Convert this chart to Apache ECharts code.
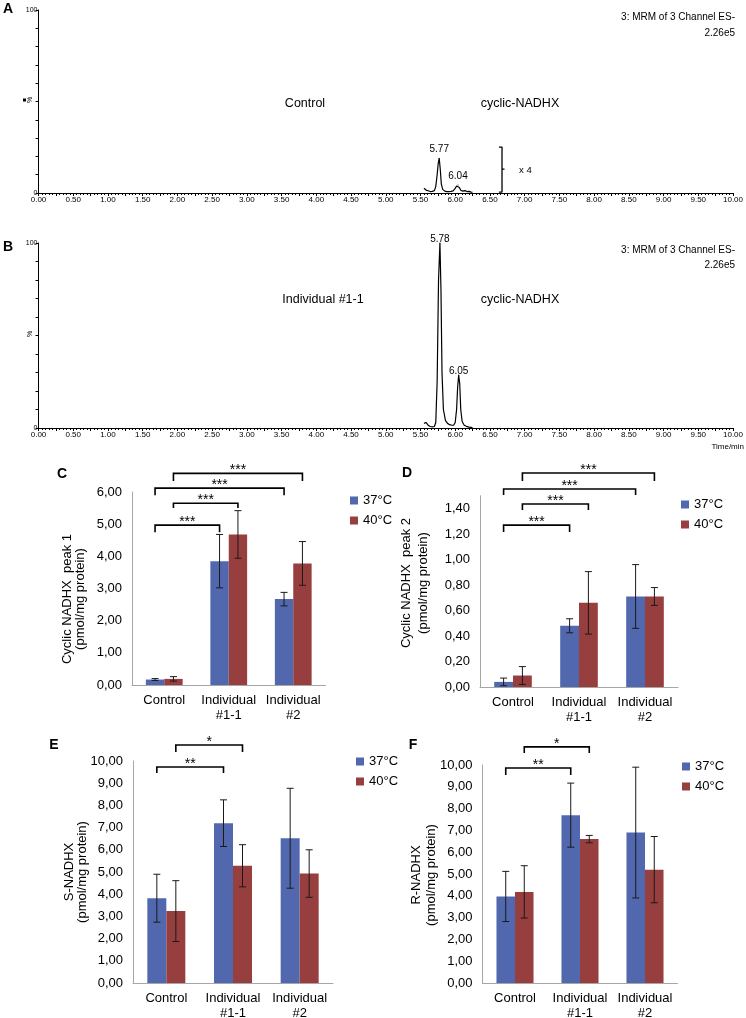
<!DOCTYPE html>
<html><head><meta charset="utf-8">
<script src="https://cdn.jsdelivr.net/npm/echarts@6/dist/echarts.min.js"></script>
<style>html,body{margin:0;padding:0;background:#fff}#c{width:746px;height:1018px}</style>
</head><body><div id="c"></div><script>
// ---------- chromatogram data (time in min, intensity in %) ----------
const timeA = [5.55,5.58,5.61,5.64,5.67,5.70,5.72,5.74,5.755,5.77,5.785,5.80,5.82,5.85,5.88,5.91,5.94,5.97,6.00,6.02,6.04,6.06,6.08,6.11,6.14,6.17,6.20,6.23,6.25];
const intensityA = [2.6,1.6,1.2,0.8,0.9,1.3,3.5,10,16,19,13,5,2,1,0.8,0.7,0.9,1.2,2.5,3.8,4.4,3,1.5,1,1.3,0.8,0.9,0.5,0.4];
const peaksA = [5.77, 6.04];
const timeB = [5.55,5.58,5.61,5.64,5.67,5.70,5.72,5.74,5.76,5.78,5.795,5.81,5.83,5.86,5.89,5.92,5.95,5.98,6.00,6.02,6.035,6.05,6.065,6.08,6.10,6.13,6.16,6.20,6.25];
const intensityB = [2.5,3,1.5,0.8,0.6,0.8,3,25,80,100,75,30,10,4,2.5,1.8,1.5,1.6,3,10,22,28.6,24,10,3.5,1.5,0.9,0.5,0.2];
const peaksB = [5.78, 6.05];

// ---------- bar chart data ----------
const categories = ['Control', 'Individual\n#1-1', 'Individual\n#2'];
const tempNames = ['37°C', '40°C'];
const peak1_37 = [0.17, 3.85, 2.67], peak1_37_err = [0.03, 0.83, 0.21];
const peak1_40 = [0.19, 4.68, 3.78], peak1_40_err = [0.07, 0.74, 0.68];
const peak2_37 = [0.04, 0.48, 0.71], peak2_37_err = [0.03, 0.055, 0.25];
const peak2_40 = [0.09, 0.66, 0.71], peak2_40_err = [0.07, 0.245, 0.07];
const sN_37 = [3.82, 7.20, 6.52], sN_37_err = [1.08, 1.05, 2.25];
const sN_40 = [3.24, 5.28, 4.93], sN_40_err = [1.37, 0.95, 1.07];
const rN_37 = [3.97, 7.70, 6.90], rN_37_err = [1.15, 1.47, 3.00];
const rN_40 = [4.18, 6.60, 5.20], rN_40_err = [1.20, 0.17, 1.52];
// significance: [fromCategory, fromTemp(0/1), toCategory, toTemp, level, drop]
const sigC = [[0,0,1,0,4.97,0.22],[0,1,1,1,5.65,0.15],[0,0,2,0,6.12,0.22],[0,1,2,1,6.58,0.24]];
const sigC_txt = ['***','***','***','***'];
const sigD = [[0,0,1,0,1.27,0.055],[0,1,1,1,1.435,0.047],[0,0,2,0,1.553,0.047],[0,1,2,1,1.678,0.063]];
const sigD_txt = ['***','***','***','***'];
const sigE = [[0,0,1,0,9.73,0.27],[0,1,1,1,10.72,0.31]];
const sigE_txt = ['**','*'];
const sigF = [[0,0,1,0,9.86,0.32],[0,1,1,1,10.83,0.28]];
const sigF_txt = ['**','*'];

const FONT = 'Liberation Sans, Arial, sans-serif';
const BLUE = '#5168AF', RED = '#973F3E';
const BARFRAC = 0.285;

const chart = echarts.init(document.getElementById('c'));

function chromData(t, v, peaks, dist) {
  return t.map((x, i) => {
    const d = { value: [x, v[i]] };
    if (peaks.some(p => Math.abs(p - x) < 1e-9)) {
      d.symbol = 'circle'; d.symbolSize = 1;
      d.label = { show: true, position: 'top', distance: dist, formatter: x.toFixed(2), fontSize: 10, fontFamily: FONT, color: '#000' };
    }
    return d;
  });
}
function chromX(gi) {
  return { type: 'value', gridIndex: gi, min: 0, max: 10, interval: 0.25,
    axisLine: { show: true, lineStyle: { color: '#000', width: 1 } },
    axisTick: { show: true, length: 3, lineStyle: { color: '#000' } },
    minorTick: { show: true, splitNumber: 5, length: 2, lineStyle: { color: '#000' } },
    splitLine: { show: false }, minorSplitLine: { show: false },
    axisLabel: { fontSize: 8, fontFamily: FONT, color: '#000', margin: 3,
      formatter: v => Math.abs(v * 2 - Math.round(v * 2)) < 1e-6 ? v.toFixed(2) : '' } };
}
function chromY(gi) {
  return { type: 'value', gridIndex: gi, min: 0, max: 100, interval: 10,
    axisLine: { show: true, lineStyle: { color: '#000', width: 1 } },
    axisTick: { show: true, length: 3, lineStyle: { color: '#000' } },
    splitLine: { show: false },
    axisLabel: { fontSize: 7, fontFamily: FONT, color: '#000', margin: 1,
      formatter: v => (v === 0 || v === 100) ? String(v) : '' } };
}
function barX(gi) {
  return { type: 'category', gridIndex: gi, data: categories,
    axisLine: { show: true, lineStyle: { color: '#A6A6A6', width: 1 } },
    axisTick: { show: false },
    axisLabel: { interval: 0, fontSize: 13, fontFamily: FONT, color: '#000', margin: 8, lineHeight: 15 } };
}
function barY(gi, max, interval) {
  return { type: 'value', gridIndex: gi, min: 0, max: max, interval: interval,
    axisLine: { show: true, lineStyle: { color: '#A6A6A6', width: 1 } },
    axisTick: { show: false }, splitLine: { show: false },
    axisLabel: { fontSize: 13, fontFamily: FONT, color: '#000', margin: 10, showMaxLabel: max !== 1.5,
      formatter: v => v.toFixed(2).replace('.', ',') } };
}
function errRender(side) {
  return function (params, api) {
    const c = api.value(0), v = api.value(1), e = api.value(2);
    const bw = api.size([1, 0])[0] * BARFRAC;
    const x = api.coord([c, v])[0] + side * bw / 2;
    const top = api.coord([c, v + e])[1], bot = api.coord([c, v - e])[1];
    const cap = 3.5, st = { stroke: '#1a1a1a', lineWidth: 1 };
    return { type: 'group', children: [
      { type: 'line', shape: { x1: x, y1: top, x2: x, y2: bot }, style: st },
      { type: 'line', shape: { x1: x - cap, y1: top, x2: x + cap, y2: top }, style: st },
      { type: 'line', shape: { x1: x - cap, y1: bot, x2: x + cap, y2: bot }, style: st } ] };
  };
}
function sigRender(texts) {
  return function (params, api) {
    const ca = api.value(0), sa = api.value(1) ? 1 : -1, cb = api.value(2), sb = api.value(3) ? 1 : -1;
    const lv = api.value(4), dr = api.value(5);
    const bw = api.size([1, 0])[0] * BARFRAC;
    const xa = api.coord([ca, lv])[0] + sa * bw / 2;
    const xb = api.coord([cb, lv])[0] + sb * bw / 2;
    const yl = api.coord([ca, lv])[1], yd = api.coord([ca, lv - dr])[1];
    return { type: 'group', children: [
      { type: 'polyline', shape: { points: [[xa, yd], [xa, yl], [xb, yl], [xb, yd]] },
        style: { stroke: '#000', lineWidth: 1.6, fill: null } },
      { type: 'text', x: (xa + xb) / 2, y: yl - 3,
        style: { text: texts[params.dataIndex], align: 'center', verticalAlign: 'middle', fontSize: 14, fontFamily: FONT, fill: '#000' } } ] };
  };
}
function barSet(gi, v37, e37, v40, e40, sig, sigTxt) {
  return [
    { type: 'bar', name: tempNames[0], xAxisIndex: gi, yAxisIndex: gi, data: v37, barWidth: (BARFRAC * 100) + '%', barGap: '0%',
      itemStyle: { color: BLUE }, silent: true },
    { type: 'bar', name: tempNames[1], xAxisIndex: gi, yAxisIndex: gi, data: v40, barWidth: (BARFRAC * 100) + '%', barGap: '0%',
      itemStyle: { color: RED }, silent: true },
    { type: 'custom', name: 'err37', xAxisIndex: gi, yAxisIndex: gi, renderItem: errRender(-1),
      data: v37.map((v, i) => [i, v, e37[i]]), encode: { x: 0, y: 1 }, silent: true, z: 5 },
    { type: 'custom', name: 'err40', xAxisIndex: gi, yAxisIndex: gi, renderItem: errRender(1),
      data: v40.map((v, i) => [i, v, e40[i]]), encode: { x: 0, y: 1 }, silent: true, z: 5 },
    { type: 'custom', name: 'sig', xAxisIndex: gi, yAxisIndex: gi, renderItem: sigRender(sigTxt),
      data: sig, encode: { x: 0, y: 4 }, silent: true, z: 5, clip: false }
  ];
}
function legendAt(left, top) {
  return { data: tempNames, left: left, top: top, orient: 'vertical', icon: 'rect', itemWidth: 8, itemHeight: 8, itemGap: 7,
    selectedMode: false, textStyle: { fontSize: 13, fontFamily: FONT, color: '#000' } };
}
function txt(x, y, s, size, opts) {
  return Object.assign({ type: 'text', x: x, y: y, silent: true,
    style: Object.assign({ text: s, fontSize: size, fontFamily: FONT, fill: '#000', align: 'center', verticalAlign: 'middle' }, (opts && opts.style) || {}) },
    opts && opts.rotation ? { rotation: opts.rotation } : {});
}
const bold = { style: { fontWeight: 'bold' } };
const rot = (lh) => ({ rotation: Math.PI / 2, style: { lineHeight: lh } });

const option = {
  animation: false,
  backgroundColor: '#fff',
  grid: [
    { left: 38.5, top: 10, width: 694.5, height: 183, outerBoundsMode: 'none' },
    { left: 38.5, top: 243, width: 694.5, height: 185, outerBoundsMode: 'none' },
    { left: 132, top: 492, width: 193.5, height: 193, outerBoundsMode: 'none' },
    { left: 480, top: 495.75, width: 198, height: 191.25, outerBoundsMode: 'none' },
    { left: 133, top: 761, width: 200, height: 222, outerBoundsMode: 'none' },
    { left: 482.5, top: 765, width: 195, height: 218, outerBoundsMode: 'none' }
  ],
  xAxis: [chromX(0), chromX(1), barX(2), barX(3), barX(4), barX(5)],
  yAxis: [chromY(0), chromY(1), barY(2, 6, 1), barY(3, 1.5, 0.2), barY(4, 10, 1), barY(5, 10, 1)],
  legend: [legendAt(345, 489), legendAt(676, 493), legendAt(351, 750), legendAt(677, 755)],
  series: [
    { type: 'line', xAxisIndex: 0, yAxisIndex: 0, data: chromData(timeA, intensityA, peaksA, 3), symbol: 'none',
      lineStyle: { color: '#000', width: 1.2 }, itemStyle: { color: '#000' }, silent: true },
    { type: 'line', xAxisIndex: 0, yAxisIndex: 0, data: [[6.63, 25.1], [6.674, 25.1], [6.674, 0.5], [6.63, 0.5]], symbol: 'none',
      lineStyle: { color: '#000', width: 1.3 }, silent: true },
    { type: 'line', xAxisIndex: 0, yAxisIndex: 0, data: [[6.674, 13], [6.71, 13]], symbol: 'none',
      lineStyle: { color: '#000', width: 1.2 }, silent: true },
    { type: 'line', xAxisIndex: 1, yAxisIndex: 1, data: chromData(timeB, intensityB, peaksB, -2), symbol: 'none',
      lineStyle: { color: '#000', width: 1.2 }, itemStyle: { color: '#000' }, silent: true },
    ...barSet(2, peak1_37, peak1_37_err, peak1_40, peak1_40_err, sigC, sigC_txt),
    ...barSet(3, peak2_37, peak2_37_err, peak2_40, peak2_40_err, sigD, sigD_txt),
    ...barSet(4, sN_37, sN_37_err, sN_40, sN_40_err, sigE, sigE_txt),
    ...barSet(5, rN_37, rN_37_err, rN_40, rN_40_err, sigF, sigF_txt)
  ],
  graphic: [
    txt(8, 9, 'A', 14, bold), txt(8, 247, 'B', 14, bold),
    txt(62, 474, 'C', 14, bold), txt(407, 473, 'D', 14, bold),
    txt(54, 745, 'E', 14, bold), txt(413, 745, 'F', 14, bold),
    { type: 'rect', shape: { x: 23, y: 98.5, width: 3, height: 3 }, style: { fill: '#000' }, silent: true },
    txt(30, 100, '%', 7, { rotation: Math.PI / 2 }), txt(30, 334, '%', 7, { rotation: Math.PI / 2 }),
    txt(305, 104, 'Control', 12.5), txt(520, 104, 'cyclic-NADHX', 12.5),
    txt(735, 17, '3: MRM of 3 Channel ES-', 10, { style: { align: 'right' } }),
    txt(735, 33, '2.26e5', 10, { style: { align: 'right' } }),
    txt(519, 170, 'x 4', 9.5, { style: { align: 'left' } }),
    txt(323, 300, 'Individual #1-1', 12.5), txt(520, 300, 'cyclic-NADHX', 12.5),
    txt(735, 250, '3: MRM of 3 Channel ES-', 10, { style: { align: 'right' } }),
    txt(735, 265, '2.26e5', 10, { style: { align: 'right' } }),
    txt(744, 447, 'Time/min', 8, { style: { align: 'right' } }),
    txt(74, 599, 'Cyclic NADHX  peak 1\n(pmol/mg protein)', 13, rot(12.5)),
    txt(415, 583, 'Cyclic NADHX  peak 2\n(pmol/mg protein)', 13, rot(16.5)),
    txt(76, 872, 'S-NADHX\n(pmol/mg protein)', 13, rot(12.7)),
    txt(424, 875, 'R-NADHX\n(pmol/mg protein)', 13, rot(15))
  ]
};
chart.setOption(option);
</script></body></html>
